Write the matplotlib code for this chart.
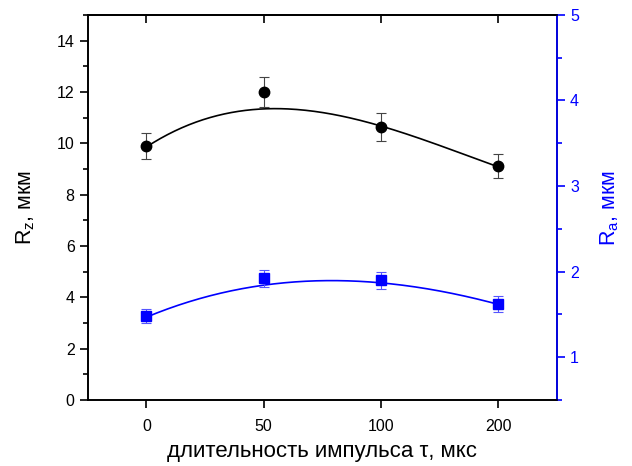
import numpy as np
import matplotlib
matplotlib.use("Agg")
import matplotlib.pyplot as plt
from matplotlib.ticker import MultipleLocator

plt.rcParams['font.family'] = ['Liberation Sans', 'DejaVu Sans']
plt.rcParams['mathtext.fontset'] = 'custom'
plt.rcParams['mathtext.rm'] = 'Liberation Sans'
plt.rcParams['mathtext.it'] = 'Liberation Sans'

# ---------------------------
# Data
# ---------------------------
tau_labels = ['0', '50', '100', '200']

rz_values = [9.9, 12.0, 10.63, 9.11]
rz_errors = [0.5, 0.6, 0.53, 0.46]

ra_values = [1.48, 1.92, 1.90, 1.625]
ra_errors = [0.08, 0.10, 0.10, 0.095]

# fitted curves
fit_pos = [0, 0.5, 1, 1.5, 2, 2.5, 3]
rz_fit = [9.9, 10.83, 11.39, 11.29, 10.6, 9.9, 9.1]
ra_fit = [1.48, 1.67, 1.862, 1.905, 1.866, 1.76, 1.625]

BLUE = '#0000ff'

fig = plt.figure(figsize=(6.32, 4.66), dpi=100)
ax = fig.add_axes([0.139, 0.1416, 0.742, 0.8264])
ax2 = ax.twinx()

x = np.arange(len(tau_labels))
xs = np.linspace(0, 3, 200)

# Rz (left)
ax.plot(xs, np.polyval(np.polyfit(fit_pos, rz_fit, 3), xs), color='black', lw=1.2)
ax.errorbar(x, rz_values, yerr=rz_errors, fmt='o', color='black', ms=7.5,
            ecolor='#444444', elinewidth=0.8, capsize=3.5, capthick=0.8)

# Ra (right)
ax2.plot(xs, np.polyval(np.polyfit(fit_pos, ra_fit, 3), xs), color=BLUE, lw=1.2)
ax2.errorbar(x, ra_values, yerr=ra_errors, fmt='s', color=BLUE, ms=6.5,
             ecolor='#5555ff', elinewidth=0.8, capsize=3.5, capthick=0.8)

ax.set_xlim(-0.5, 3.5)
ax.set_ylim(0, 15)
ax.set_xticks(x)
ax.set_xticklabels(tau_labels)
ax.set_yticks(np.arange(0, 15, 2))
ax.yaxis.set_minor_locator(MultipleLocator(1))
ax.tick_params(axis='both', which='major', direction='out', length=6, width=1.2, labelsize=11.5)
ax.tick_params(axis='y', which='minor', direction='out', length=3.5, width=1.2)
ax.tick_params(axis='x', pad=8)

top = ax.secondary_xaxis('top')
top.set_xticks(x)
top.tick_params(direction='in', length=6, width=1.2, labeltop=False)

ax2.set_ylim(0.5, 5)
ax2.set_yticks([1, 2, 3, 4, 5])
ax2.yaxis.set_minor_locator(MultipleLocator(0.5))
ax2.tick_params(axis='y', which='major', direction='out', length=6, width=1.2,
                colors=BLUE, labelsize=11.5)
ax2.tick_params(axis='y', which='minor', direction='out', length=3.5, width=1.2, colors=BLUE)

for sp in ax.spines.values():
    sp.set_linewidth(1.2)
for sp in ax2.spines.values():
    sp.set_linewidth(1.2)
ax2.spines['right'].set_color(BLUE)
top.spines['top'].set_linewidth(1.2)

ax.set_xlabel('длительность импульса τ, мкс', fontsize=16, labelpad=5)
ax.set_ylabel('R$_\\mathrm{z}$, мкм', fontsize=15.5, labelpad=14)
ax2.set_ylabel('R$_\\mathrm{a}$, мкм', fontsize=15.5, color=BLUE, labelpad=14)

fig.savefig('out.png', dpi=100)
